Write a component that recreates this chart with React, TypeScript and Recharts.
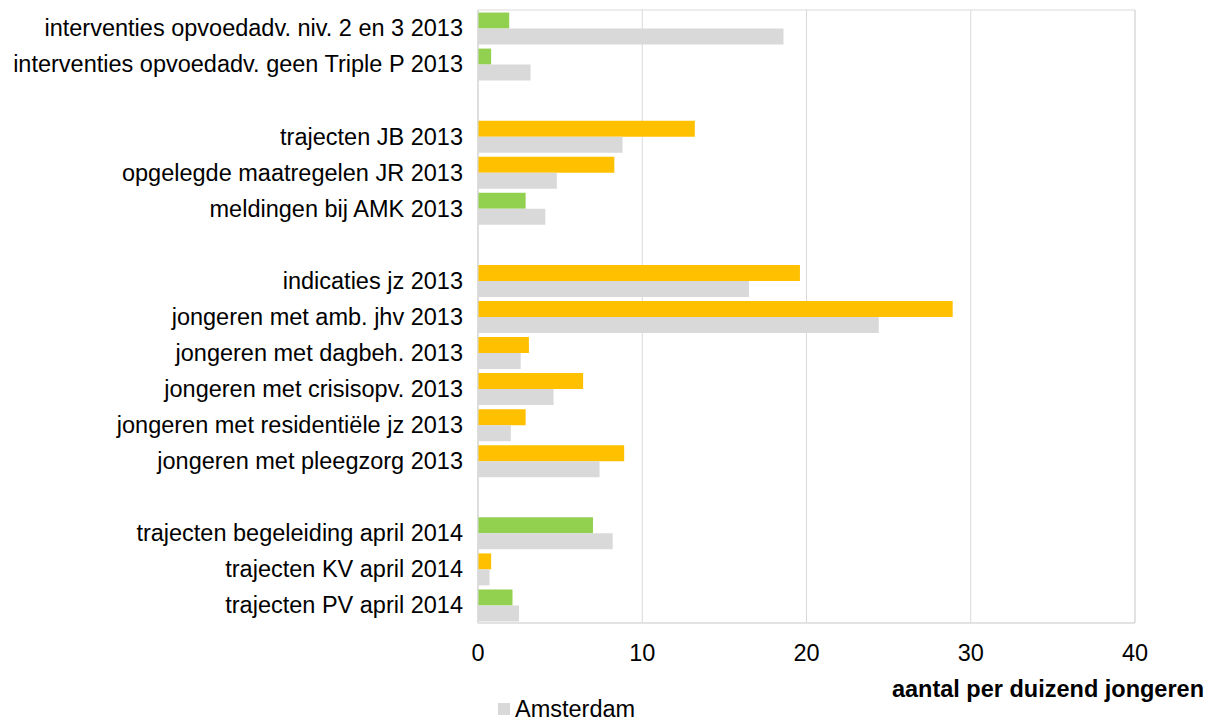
import { BarChart, Bar, XAxis, YAxis, CartesianGrid, Cell, Legend, ReferenceArea } from 'recharts'

// Rows from top to bottom; empty strings are the blank spacer rows
const categories = [
  'interventies opvoedadv. niv. 2 en 3 2013',
  'interventies opvoedadv. geen Triple P 2013',
  '',
  'trajecten JB 2013',
  'opgelegde maatregelen JR 2013',
  'meldingen bij AMK 2013',
  '',
  'indicaties jz 2013',
  'jongeren met amb. jhv 2013',
  'jongeren met dagbeh. 2013',
  'jongeren met crisisopv. 2013',
  'jongeren met residentiële jz 2013',
  'jongeren met pleegzorg 2013',
  '',
  'trajecten begeleiding april 2014',
  'trajecten KV april 2014',
  'trajecten PV april 2014',
]

const regio = [1.9, 0.8, null, 13.2, 8.3, 2.9, null, 19.6, 28.9, 3.1, 6.4, 2.9, 8.9, null, 7.0, 0.8, 2.1]
const amsterdam = [18.6, 3.2, null, 8.8, 4.8, 4.1, null, 16.5, 24.4, 2.6, 4.6, 2.0, 7.4, null, 8.2, 0.7, 2.5]

const xTicks = [0, 10, 20, 30, 40]

const GREEN = '#92d050'
const ORANGE = '#ffc000'
const GREY = '#d9d9d9'
const FRAME = '#d9d9d9'
const FONT_SIZE = 23.5

const data = categories.map((name, i) => ({
  name,
  regio: regio[i],
  amsterdam: amsterdam[i],
}))

// orange when higher than Amsterdam, green when lower
const barColor = (d: { regio: number | null; amsterdam: number | null }) =>
  (d.regio ?? 0) > (d.amsterdam ?? 0) ? ORANGE : GREEN

function AxisTitle({ viewBox }: any) {
  const { x, y, width } = viewBox
  return (
    <text x={x + width + 69} y={y + 74} textAnchor="end" fontSize={FONT_SIZE} fontWeight="bold" fill="#000">
      aantal per duizend jongeren
    </text>
  )
}

function LegendContent() {
  return (
    <div style={{ paddingLeft: 498, height: 22, display: 'flex', alignItems: 'center', fontSize: FONT_SIZE, color: '#000' }}>
      <span style={{ display: 'inline-block', width: 12, height: 12, background: GREY, marginRight: 5 }} />
      Amsterdam
    </div>
  )
}

export default function App() {
  return (
    <div style={{ position: 'absolute', left: 0, top: 0, fontFamily: '"Liberation Sans", Arial, sans-serif', background: '#fff' }}>
      <BarChart
        width={1211}
        height={720}
        data={data}
        layout="vertical"
        margin={{ top: 10, right: 76, left: 0, bottom: 0 }}
        barCategoryGap="7%"
        barGap={0}
      >
        <CartesianGrid horizontal={false} stroke={FRAME} />
        <ReferenceArea x1={0} x2={40} fill="none" stroke={FRAME} />
        <XAxis
          type="number"
          domain={[0, 40]}
          ticks={xTicks}
          axisLine={{ stroke: FRAME }}
          tickLine={false}
          tickSize={0}
          tickMargin={21}
          tick={{ fontSize: FONT_SIZE, fill: '#000' }}
          height={75}
          label={<AxisTitle />}
        />
        <YAxis
          type="category"
          dataKey="name"
          width={478}
          interval={0}
          axisLine={{ stroke: FRAME }}
          tickLine={false}
          tickSize={0}
          tickMargin={15}
          tick={{ fontSize: FONT_SIZE, fill: '#000' }}
        />
        <Legend verticalAlign="bottom" align="left" content={<LegendContent />} />
        <Bar dataKey="regio" isAnimationActive={false}>
          {data.map((d, i) => (
            <Cell key={i} fill={barColor(d)} />
          ))}
        </Bar>
        <Bar dataKey="amsterdam" name="Amsterdam" fill={GREY} isAnimationActive={false} />
      </BarChart>
    </div>
  )
}
